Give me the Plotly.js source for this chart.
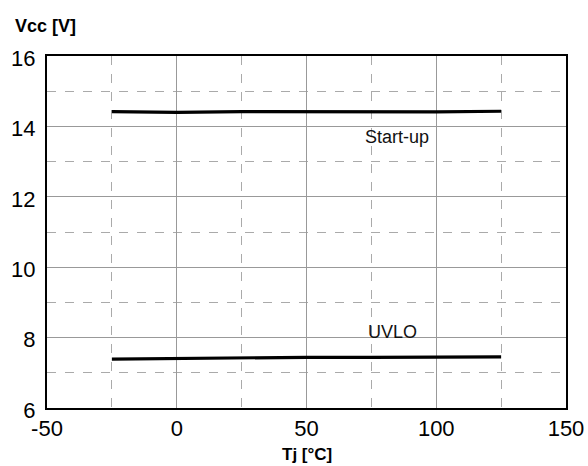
<!DOCTYPE html>
<html>
<head>
<meta charset="utf-8">
<script src="https://cdn.plot.ly/plotly-3.0.1.min.js"></script>
<style>html,body{margin:0;padding:0;background:#fff;}#chart{width:588px;height:466px;}</style>
</head>
<body>
<div id="chart"></div>
<script>
const tj = [-25, 0, 25, 50, 75, 100, 125];
const startUp = [14.42, 14.40, 14.42, 14.41, 14.40, 14.41, 14.43];
const uvlo = [7.39, 7.41, 7.43, 7.44, 7.44, 7.44, 7.45];
const xTicks = [-50, 0, 50, 100, 150];
const yTicks = [6, 8, 10, 12, 14, 16];
const labels = [
  {text: 'Start-up', x: 85, y: 13.71},
  {text: 'UVLO', x: 83, y: 8.16}
];

const font = 'Liberation Sans, Arial, sans-serif';
const traces = [
  {x: tj, y: startUp, mode: 'lines', line: {color: '#000', width: 3.2}, hoverinfo: 'none'},
  {x: tj, y: uvlo, mode: 'lines', line: {color: '#000', width: 3.2}, hoverinfo: 'none'}
];

const annotations = labels.map(l => ({
  text: l.text, x: l.x, y: l.y, xref: 'x', yref: 'y', showarrow: false,
  font: {family: font, size: 18, color: '#111'}, xanchor: 'center', yanchor: 'middle'
}));
annotations.push({text: '<b>Vcc [V]</b>', xref: 'paper', yref: 'paper', x: -0.0655, y: 1.0866,
  xanchor: 'left', yanchor: 'middle', showarrow: false, font: {family: font, size: 18, color: '#000'}});
annotations.push({text: '<b>Tj [°C]</b>', xref: 'paper', yref: 'paper', x: 0.5, y: -0.132,
  xanchor: 'center', yanchor: 'middle', showarrow: false, font: {family: font, size: 17, color: '#000'}});

const layout = {
  width: 588, height: 466,
  margin: {l: 47, r: 22, t: 56, b: 58},
  paper_bgcolor: '#fff', plot_bgcolor: '#fff',
  showlegend: false,
  font: {family: font, color: '#000'},
  xaxis: {
    range: [-50, 150], tickvals: xTicks, ticktext: xTicks.map(String),
    showgrid: true, gridcolor: '#999', gridwidth: 1,
    minor: {dtick: 25, tick0: 0, showgrid: true, gridcolor: '#aaa', griddash: 'dash', gridwidth: 1},
    showline: true, mirror: true, linecolor: '#000', linewidth: 2,
    ticks: '', zeroline: false, tickfont: {family: font, size: 22, color: '#000'},
    ticklabelstandoff: 0
  },
  yaxis: {
    range: [6, 16], tickvals: yTicks, ticktext: yTicks.map(String),
    showgrid: true, gridcolor: '#999', gridwidth: 1,
    minor: {dtick: 1, tick0: 0, showgrid: true, gridcolor: '#aaa', griddash: 'dash', gridwidth: 1},
    showline: true, mirror: true, linecolor: '#000', linewidth: 2,
    ticks: '', zeroline: false, tickfont: {family: font, size: 22, color: '#000'},
    ticklabelstandoff: 5, ticklabelshift: 2
  },
  annotations: annotations
};

Plotly.newPlot('chart', traces, layout, {staticPlot: true, displayModeBar: false});
</script>
</body>
</html>
